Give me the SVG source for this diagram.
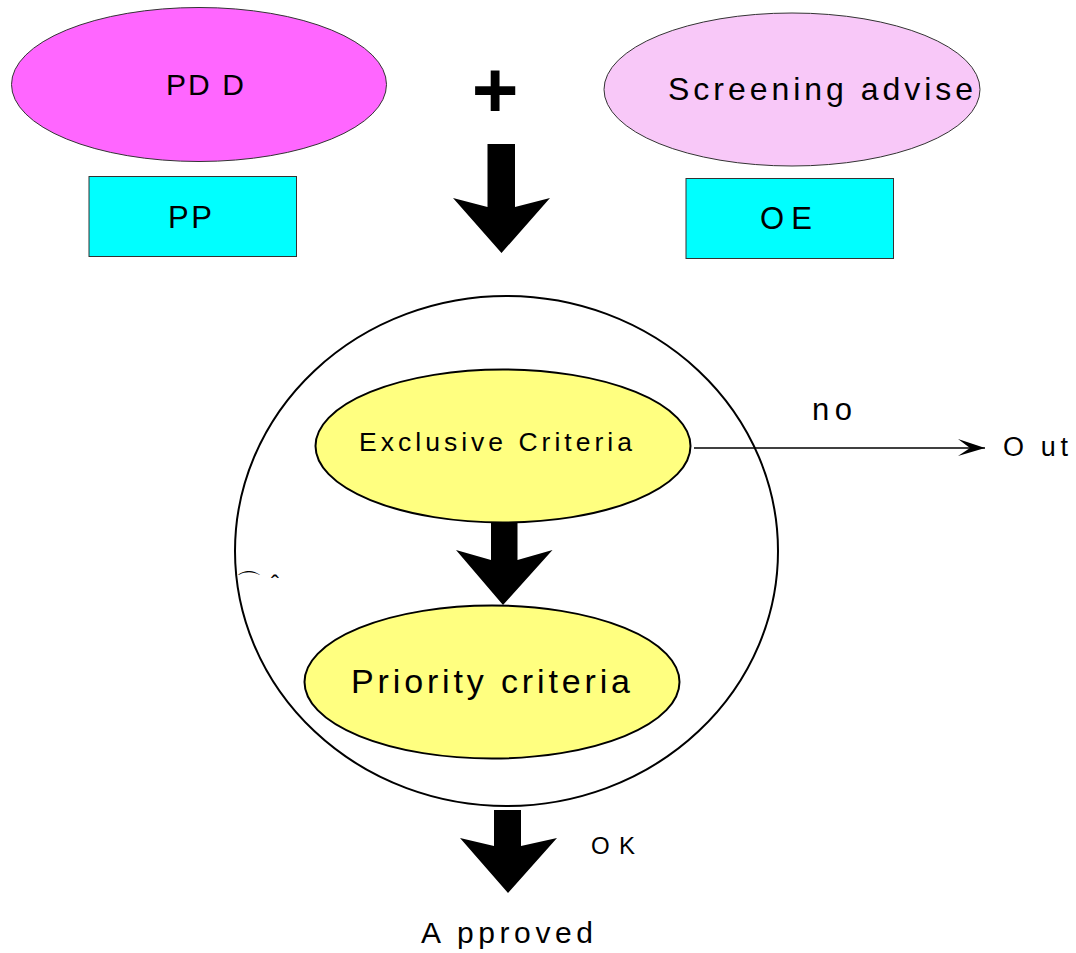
<svg xmlns="http://www.w3.org/2000/svg" width="1076" height="953" viewBox="0 0 1076 953">
<style>
.t{font-family:"Liberation Sans",Arial,sans-serif;fill:#000}
.thin{stroke:#333;stroke-width:1}
.thick{stroke:#000;stroke-width:2}
.big{fill:#000;stroke:none}
</style>
<defs>
<marker id="ah" markerWidth="28" markerHeight="18" refX="27" refY="9" orient="auto" markerUnits="userSpaceOnUse">
<path d="M0,0 L27,9 L0,17 L12,9 Z" fill="#000"/>
</marker>
</defs>
<rect width="1076" height="953" fill="#fff"/>
<g id="pdd">
<ellipse cx="199" cy="84.5" rx="187.5" ry="77" fill="#FF66FF" class="thin"/>
<text class="t" x="166" y="95" font-size="30" textLength="78" lengthAdjust="spacing">PD D</text>
</g>
<g id="pp">
<rect x="89" y="176.5" width="207.5" height="80" fill="#00FFFF" class="thin"/>
<text class="t" x="168" y="227.5" font-size="31" textLength="44" lengthAdjust="spacing">PP</text>
</g>
<g id="plus">
<text class="t" x="495" y="117" font-size="80" font-weight="bold" text-anchor="middle">+</text>
</g>
<g id="screening">
<ellipse cx="792" cy="89.5" rx="188" ry="76.5" fill="#F8C8F8" class="thin"/>
<text class="t" x="668" y="100" font-size="32" textLength="305" lengthAdjust="spacing">Screening advise</text>
</g>
<g id="oe">
<rect x="686" y="178.5" width="207.5" height="80" fill="#00FFFF" class="thin"/>
<text class="t" x="760" y="229" font-size="31" textLength="52" lengthAdjust="spacing">OE</text>
</g>
<g id="screening-box">
<ellipse cx="506.5" cy="551" rx="271.5" ry="255" fill="none" class="thick"/>
<text class="t" x="236" y="592" font-size="26" font-family="DejaVu Sans">⌒</text>
<text class="t" x="271" y="592" font-size="24">ˆ</text>
</g>
<g id="exclusive">
<ellipse cx="503" cy="446" rx="187.5" ry="76.5" fill="#FFFF80" class="thick"/>
<text class="t" x="359" y="450.5" font-size="26.5" textLength="273" lengthAdjust="spacing">Exclusive Criteria</text>
</g>
<g id="priority">
<ellipse cx="492" cy="682" rx="187.5" ry="76.5" fill="#FFFF80" class="thick"/>
<text class="t" x="351" y="693" font-size="34" textLength="279" lengthAdjust="spacing">Priority criteria</text>
</g>
<g id="out">
<text class="t" x="1003" y="456" font-size="27" textLength="65" lengthAdjust="spacing">O ut</text>
</g>
<g id="approved">
<text class="t" x="421" y="943" font-size="30" textLength="172" lengthAdjust="spacing">A pproved</text>
</g>
<g id="connectors">
<path class="big" d="M487.5,144 L515,144 L515,207 L550,198 L501.5,253 L453,198 L487.5,207 Z"/>
<path class="big" d="M491,522 L517.5,522 L517.5,560 L552.5,550 L503,605 L456,550 L491,560 Z"/>
<path class="big" d="M494,810 L521,810 L521,846 L557,838 L508,893 L460,838 L494,846 Z"/>
<line x1="694" y1="448" x2="985" y2="448" stroke="#000" stroke-width="1.5" marker-end="url(#ah)"/>
<text class="t" x="812" y="420" font-size="31" textLength="40" lengthAdjust="spacing">no</text>
<text class="t" x="591" y="854" font-size="24" textLength="44" lengthAdjust="spacing">OK</text>
</g>
</svg>
